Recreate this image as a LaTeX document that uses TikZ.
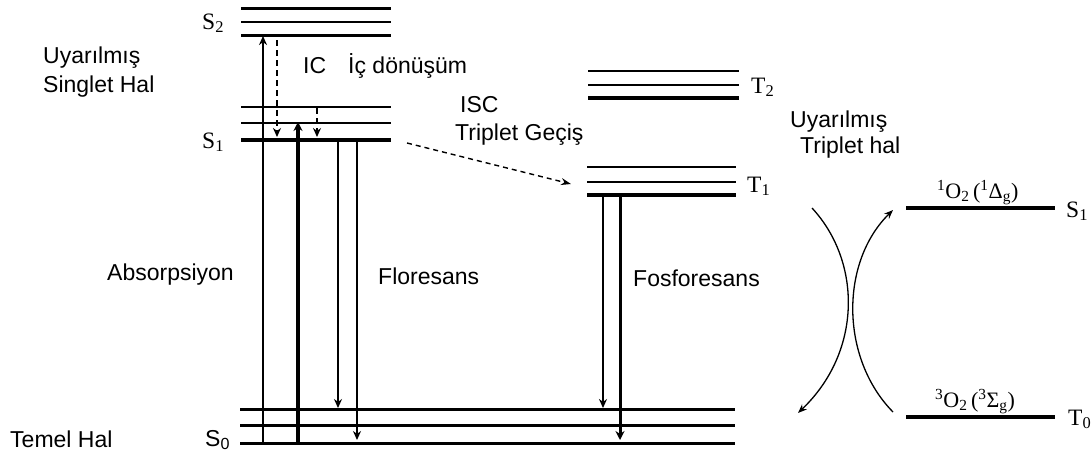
\documentclass[tikz,border=0pt]{standalone}
\usepackage{fontspec}
\setmainfont{Liberation Sans}
\newfontfamily\serf{Liberation Serif}
\usetikzlibrary{arrows.meta}
\begin{document}
\begin{tikzpicture}[x=1pt,y=-1pt,
  lbl/.style={inner sep=0pt, anchor=base west, font=\fontsize{23}{27}\selectfont},
  slbl/.style={inner sep=0pt, anchor=base west, font=\fontsize{23.5}{27}\selectfont\serf},
  olbl/.style={inner sep=0pt, anchor=base west, font=\fontsize{22}{26}\selectfont\serf},
  thinlvl/.style={line width=2pt},
  thicklvl/.style={line width=3pt},
  boldlvl/.style={line width=4.5pt},
  tr/.style={line width=1.6pt, -{Stealth[length=9pt,width=8pt]}},
  trbold/.style={line width=3.5pt, -{Stealth[length=9pt,width=9pt]}},
  dtr/.style={tr, dash pattern=on 6pt off 4pt},
  isc/.style={line width=1.4pt, dash pattern=on 5pt off 4pt, -{Stealth[length=10pt,width=7pt]}},
  crv/.style={line width=1.3pt, -{Stealth[length=9pt,width=7pt]}}
]
\useasboundingbox (0,0) rectangle (1092,459);

% ---- level coordinates
\coordinate (s2aL) at (241,8);   \coordinate (s2aR) at (391,8);
\coordinate (s2bL) at (241,22);  \coordinate (s2bR) at (391,22);
\coordinate (s2cL) at (241,35);  \coordinate (s2cR) at (391,35);
\coordinate (s1aL) at (241,107); \coordinate (s1aR) at (391,107);
\coordinate (s1bL) at (241,123); \coordinate (s1bR) at (391,123);
\coordinate (s1cL) at (241,140); \coordinate (s1cR) at (391,140);
\coordinate (s0aL) at (240,409); \coordinate (s0aR) at (735,409);
\coordinate (s0bL) at (240,425); \coordinate (s0bR) at (735,425);
\coordinate (s0cL) at (240,443); \coordinate (s0cR) at (735,443);
\coordinate (t2aL) at (588,71);  \coordinate (t2aR) at (739,71);
\coordinate (t2bL) at (588,85);  \coordinate (t2bR) at (739,85);
\coordinate (t2cL) at (588,98);  \coordinate (t2cR) at (739,98);
\coordinate (t1aL) at (587,167); \coordinate (t1aR) at (736,167);
\coordinate (t1bL) at (587,182); \coordinate (t1bR) at (736,182);
\coordinate (t1cL) at (587,195); \coordinate (t1cR) at (736,195);
\coordinate (o1L) at (906,208);  \coordinate (o1R) at (1055,208);
\coordinate (o3L) at (906,417);  \coordinate (o3R) at (1055,417);

% ---- levels
\draw[thicklvl] (s2aL) -- (s2aR);
\draw[thinlvl]  (s2bL) -- (s2bR);
\draw[thicklvl] (s2cL) -- (s2cR);
\draw[thinlvl]  (s1aL) -- (s1aR);
\draw[thinlvl]  (s1bL) -- (s1bR);
\draw[boldlvl]  (s1cL) -- (s1cR);
\draw[thicklvl] (s0aL) -- (s0aR);
\draw[thicklvl] (s0bL) -- (s0bR);
\draw[thicklvl] (s0cL) -- (s0cR);
\draw[thinlvl]  (t2aL) -- (t2aR);
\draw[thinlvl]  (t2bL) -- (t2bR);
\draw[boldlvl]  (t2cL) -- (t2cR);
\draw[thinlvl]  (t1aL) -- (t1aR);
\draw[thinlvl]  (t1bL) -- (t1bR);
\draw[boldlvl]  (t1cL) -- (t1cR);
\draw[boldlvl]  (o1L) -- (o1R);
\draw[boldlvl]  (o3L) -- (o3R);

% ---- transition end points
\coordinate (absB) at (263,443); \coordinate (absT) at (263,36);
\coordinate (thB)  at (298,443); \coordinate (thT)  at (298,122);
\coordinate (ic1T) at (277,40);  \coordinate (ic1B) at (277,137);
\coordinate (ic2T) at (317,108); \coordinate (ic2B) at (317,137);
\coordinate (f1T)  at (338,142); \coordinate (f1B)  at (338,408);
\coordinate (f2T)  at (357,142); \coordinate (f2B)  at (357,440);
\coordinate (p1T)  at (603,197); \coordinate (p1B)  at (603,408);
\coordinate (p2T)  at (620,197); \coordinate (p2B)  at (620,440);
\coordinate (iscA) at (407,143); \coordinate (iscB) at (571,184);
\coordinate (cAs)  at (812,208); \coordinate (cAe)  at (798,413);
\coordinate (cBs)  at (893,412); \coordinate (cBe)  at (893,210);

% ---- transitions
\draw[tr] (absB) -- (absT);
\draw[trbold] (thB) -- (thT);
\draw[dtr] (ic1T) -- (ic1B);
\draw[dtr] (ic2T) -- (ic2B);
\draw[tr] (f1T) -- (f1B);
\draw[tr] (f2T) -- (f2B);
\draw[tr] (p1T) -- (p1B);
\draw[line width=3pt, -{Stealth[length=9pt,width=9pt]}] (p2T) -- (p2B);
\draw[isc] (iscA) -- (iscB);
\draw[crv] (cAs) .. controls (862,262) and (862,352) .. (cAe);
\draw[crv] (cBs) .. controls (840,358) and (840,262) .. (cBe);

% ---- labels
\node[lbl] (us1) at (43,63) {Uyarılmış};
\node[lbl] (us2) at (43,92) {Singlet Hal};
\node[lbl] (ic) at (303,73) {IC};
\node[lbl] (icd) at (348,73) {İç dönüşüm};
\node[lbl] (iscl) at (460,112) {ISC};
\node[lbl] (tg) at (455,140) {Triplet Geçiş};
\node[lbl] (ut1) at (790,127) {Uyarılmış};
\node[lbl] (ut2) at (800,153) {Triplet hal};
\node[lbl] (abs) at (107,280) {Absorpsiyon};
\node[lbl] (flo) at (378,284) {Floresans};
\node[lbl] (fos) at (633,286) {Fosforesans};
\node[lbl] (tem) at (10,447) {Temel Hal};

\node[slbl] (S2) at (202,29) {S\textsubscript{2}};
\node[slbl] (S1) at (202,148) {S\textsubscript{1}};
\node[lbl] (S0) at (205,446) {S\textsubscript{0}};
\node[slbl] (T2) at (751,93) {T\textsubscript{2}};
\node[slbl] (T1) at (747,192) {T\textsubscript{1}};
\node[olbl] (O1) at (937,198) {\textsuperscript{1}O\textsubscript{2}\,(\textsuperscript{1}Δ\textsubscript{g})};
\node[slbl] (S1r) at (1066,217) {S\textsubscript{1}};
\node[olbl] (O3) at (935,407) {\textsuperscript{3}O\textsubscript{2}\,(\textsuperscript{3}Σ\textsubscript{g})};
\node[slbl] (T0) at (1068,425) {T\textsubscript{0}};
\end{tikzpicture}
\end{document}
